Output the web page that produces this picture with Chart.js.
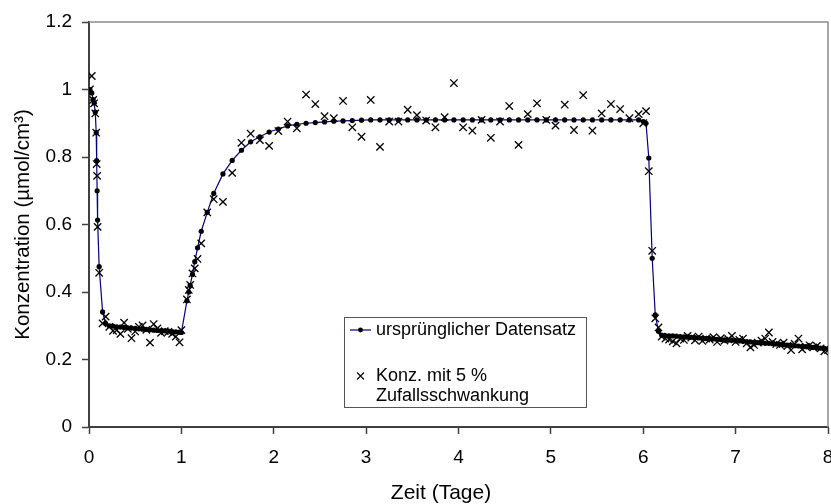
<!DOCTYPE html>
<html>
<head>
<meta charset="utf-8">
<script src="https://cdn.jsdelivr.net/npm/chart.js@4/dist/chart.umd.min.js"></script>
<style>
  html, body { margin: 0; padding: 0; background: #fff; }
  #wrap { width: 831px; height: 504px; }
</style>
</head>
<body>
<div id="wrap"><canvas id="chart" width="831" height="504"></canvas></div>
<script>
// Zeit in Tagen (gemeinsam fuer beide Reihen)
const zeit = [
  // Abfall am Anfang
  0.01, 0.03, 0.045, 0.055, 0.068, 0.078, 0.083, 0.088, 0.093, 0.11, 0.147, 0.18,
  // niedriges Niveau
  0.22, 0.26, 0.30, 0.34, 0.38, 0.42, 0.46, 0.50, 0.54, 0.58,
  0.62, 0.66, 0.70, 0.74, 0.78, 0.82, 0.86, 0.90, 0.94, 0.98,
  // Anstieg
  1.0, 1.06, 1.08, 1.095, 1.12, 1.145, 1.175, 1.215, 1.28, 1.35,
  1.45, 1.55, 1.65, 1.75, 1.85, 1.95, 2.05,
  // Plateau
  2.15, 2.25, 2.35, 2.45, 2.55, 2.65, 2.75, 2.85, 2.95,
  3.05, 3.15, 3.25, 3.35, 3.45, 3.55, 3.65, 3.75, 3.85, 3.95,
  4.05, 4.15, 4.25, 4.35, 4.45, 4.55, 4.65, 4.75, 4.85, 4.95,
  5.05, 5.15, 5.25, 5.35, 5.45, 5.55, 5.65, 5.75, 5.85, 5.95,
  6.0, 6.03,
  // zweiter Abfall
  6.06, 6.097, 6.13, 6.165,
  // Ende
  6.20, 6.24, 6.28, 6.32, 6.36, 6.40, 6.44, 6.48, 6.52, 6.56,
  6.60, 6.64, 6.68, 6.72, 6.76, 6.80, 6.84, 6.88, 6.92, 6.96,
  7.00, 7.04, 7.08, 7.12, 7.16, 7.20, 7.24, 7.28, 7.32, 7.36,
  7.40, 7.44, 7.48, 7.52, 7.56, 7.60, 7.64, 7.68, 7.72, 7.76,
  7.80, 7.84, 7.88, 7.92, 7.96, 8.00
]

// ursprünglicher Datensatz
const original = [
  1.0, 0.99, 0.97, 0.96, 0.933, 0.872, 0.789, 0.70, 0.613, 0.475, 0.341, 0.307,
  0.300, 0.299, 0.297, 0.296, 0.295, 0.294, 0.293, 0.292, 0.291, 0.290,
  0.289, 0.288, 0.287, 0.286, 0.286, 0.285, 0.284, 0.283, 0.282, 0.281,
  0.28, 0.374, 0.40, 0.42, 0.452, 0.49, 0.531, 0.58, 0.636, 0.692,
  0.75, 0.79, 0.82, 0.845, 0.86, 0.874, 0.883,
  0.892, 0.897, 0.90, 0.902, 0.904, 0.906, 0.907, 0.908, 0.909,
  0.91, 0.91, 0.91, 0.91, 0.91, 0.91, 0.91, 0.91, 0.91, 0.91,
  0.91, 0.91, 0.91, 0.91, 0.91, 0.91, 0.91, 0.91, 0.91, 0.91,
  0.91, 0.91, 0.91, 0.91, 0.91, 0.91, 0.91, 0.91, 0.91, 0.91,
  0.905, 0.90,
  0.797, 0.50, 0.332, 0.284,
  0.272, 0.271, 0.270, 0.270, 0.269, 0.268, 0.267, 0.266, 0.266, 0.265,
  0.264, 0.263, 0.262, 0.262, 0.261, 0.260, 0.259, 0.258, 0.257, 0.257,
  0.256, 0.255, 0.254, 0.253, 0.252, 0.251, 0.250, 0.249, 0.248, 0.248,
  0.247, 0.246, 0.245, 0.244, 0.243, 0.242, 0.241, 0.240, 0.239, 0.238,
  0.237, 0.236, 0.235, 0.234, 0.233, 0.232
]

// Konz. mit 5 % Zufallsschwankung
const schwankung = [
  1.0, 1.04, 0.969, 0.959, 0.929, 0.872, 0.779, 0.744, 0.593, 0.457, 0.307, 0.327,
  0.297, 0.285, 0.287, 0.276, 0.309, 0.291, 0.263, 0.283, 0.297, 0.301,
  0.288, 0.25, 0.305, 0.292, 0.279, 0.284, 0.282, 0.276, 0.268, 0.251,
  0.287, 0.378, 0.406, 0.421, 0.455, 0.47, 0.498, 0.544, 0.636, 0.675,
  0.667, 0.753, 0.842, 0.869, 0.85, 0.833, 0.877,
  0.905, 0.885, 0.985, 0.957, 0.921, 0.915, 0.966, 0.888, 0.86,
  0.969, 0.83, 0.905, 0.905, 0.94, 0.924, 0.908, 0.888, 0.918, 1.019,
  0.888, 0.878, 0.91, 0.857, 0.905, 0.951, 0.836, 0.927, 0.959, 0.91,
  0.893, 0.955, 0.88, 0.983, 0.878, 0.929, 0.957, 0.942, 0.915, 0.927,
  0.90, 0.936,
  0.758, 0.522, 0.322, 0.295,
  0.268, 0.262, 0.259, 0.254, 0.248, 0.262, 0.258, 0.270, 0.265, 0.257,
  0.268, 0.255, 0.262, 0.259, 0.266, 0.252, 0.263, 0.256, 0.260, 0.270,
  0.252, 0.258, 0.262, 0.248, 0.236, 0.243, 0.250, 0.256, 0.262, 0.280,
  0.252, 0.246, 0.243, 0.250, 0.240, 0.228, 0.246, 0.262, 0.230, 0.238,
  0.242, 0.236, 0.240, 0.233, 0.224, 0.228
]

const xTickLabels = ["0", "1", "2", "3", "4", "5", "6", "7", "8"]
const yTickLabels = ["0", "0.2", "0.4", "0.6", "0.8", "1", "1.2"]

const seriesNames = ["ursprünglicher Datensatz", ["Konz. mit 5 %", "Zufallsschwankung"]]
const xTitle = "Zeit (Tage)"

const FONT = "'Liberation Sans', Arial, sans-serif"
const AXIS = "#404040"

function toPoints(ys) {
  var pts = []
  for (let i = 0; i < zeit.length; i++) {
    pts.push({ x: zeit[i], y: ys[i] })
  }
  return pts
}

// gray frame on top and right like the excel plot area
const framePlugin = {
  id: "frame",
  beforeDatasetsDraw(chart) {
    const { ctx, chartArea: a } = chart
    ctx.save()
    ctx.strokeStyle = "#8c8c8c"
    ctx.lineWidth = 1.5
    ctx.beginPath()
    ctx.moveTo(a.left, a.top)
    ctx.lineTo(a.right, a.top)
    ctx.lineTo(a.right, a.bottom)
    ctx.stroke()
    ctx.restore()
  },
  afterDraw(chart) {
    // x title sits a bit left of the centre in the original
    const { ctx, chartArea: a } = chart
    ctx.save()
    ctx.fillStyle = "#000"
    ctx.font = "21px " + FONT
    ctx.textAlign = "center"
    ctx.textBaseline = "middle"
    ctx.fillText(xTitle, a.left + 352, 493)
    ctx.restore()
  }
}

// boxed legend inside the plot, with a two line entry
const legendBox = {
  id: "legendBox",
  afterDraw(chart) {
    const { ctx, chartArea: a } = chart
    const x = a.left + 255
    const y = a.top + 295
    const w = 242
    const h = 90
    ctx.save()
    ctx.fillStyle = "#fff"
    ctx.fillRect(x, y, w, h)
    ctx.strokeStyle = "#555"
    ctx.lineWidth = 1
    ctx.strokeRect(x + 0.5, y + 0.5, w, h)

    // line + dot
    const y1 = y + 13
    ctx.strokeStyle = "#000080"
    ctx.lineWidth = 1.2
    ctx.beginPath()
    ctx.moveTo(x + 6, y1)
    ctx.lineTo(x + 27, y1)
    ctx.stroke()
    ctx.fillStyle = "#000"
    ctx.beginPath()
    ctx.arc(x + 16.5, y1, 2.4, 0, Math.PI * 2)
    ctx.fill()

    // cross
    const y2 = y + 59
    ctx.strokeStyle = "#000"
    ctx.lineWidth = 1.1
    ctx.beginPath()
    ctx.moveTo(x + 13, y2 - 3.5)
    ctx.lineTo(x + 20, y2 + 3.5)
    ctx.moveTo(x + 20, y2 - 3.5)
    ctx.lineTo(x + 13, y2 + 3.5)
    ctx.stroke()

    ctx.fillStyle = "#000"
    ctx.font = "18px " + FONT
    ctx.textBaseline = "middle"
    ctx.textAlign = "left"
    ctx.fillText(seriesNames[0], x + 32, y1)
    ctx.fillText(seriesNames[1][0], x + 32, y2)
    ctx.fillText(seriesNames[1][1], x + 32, y2 + 20)
    ctx.restore()
  }
}

const ctx = document.getElementById("chart")

const config = {
  type: "scatter",
  data: {
    datasets: [
      {
        label: seriesNames[0],
        data: toPoints(original),
        showLine: true,
        borderColor: "#000080",
        borderWidth: 1.2,
        tension: 0,
        pointRadius: 2.6,
        pointBackgroundColor: "#000",
        pointBorderColor: "#000",
        pointBorderWidth: 0,
        pointHoverRadius: 0,
        order: 2
      },
      {
        label: seriesNames[1].join(" "),
        data: toPoints(schwankung),
        showLine: false,
        pointStyle: "crossRot",
        pointRadius: 5.2,
        pointBorderColor: "#000",
        pointBackgroundColor: "#000",
        pointBorderWidth: 1.3,
        pointHoverRadius: 0,
        order: 1
      }
    ]
  },
  options: {
    responsive: false,
    animation: false,
    events: [],
    plugins: {
      legend: { display: false },
      tooltip: { enabled: false },
      title: { display: false }
    },
    layout: {
      autoPadding: false,
      padding: { top: 22, right: 3, bottom: 0, left: 0 }
    },
    scales: {
      x: {
        type: "linear",
        min: 0,
        max: 8,
        afterFit: function(scale) {
          scale.height = 77
          scale.paddingLeft = 0
          scale.paddingRight = 0
        },
        ticks: {
          stepSize: 1,
          padding: 12,
          color: "#000",
          font: { family: FONT, size: 19 },
          maxRotation: 0,
          callback: function(value) { return xTickLabels[Math.round(value)] }
        },
        grid: {
          drawOnChartArea: false,
          drawTicks: true,
          tickLength: 7,
          tickWidth: 1.5,
          tickColor: AXIS
        },
        border: { display: true, color: AXIS, width: 2 },
        title: { display: false }
      },
      y: {
        type: "linear",
        min: 0,
        max: 1.2,
        afterFit: function(scale) {
          scale.width = 89
          scale.paddingTop = 0
          scale.paddingBottom = 0
        },
        ticks: {
          stepSize: 0.2,
          padding: 10,
          color: "#000",
          font: { family: FONT, size: 19 },
          callback: function(value, index) { return yTickLabels[index] }
        },
        grid: {
          drawOnChartArea: false,
          drawTicks: true,
          tickLength: 7,
          tickWidth: 1.5,
          tickColor: AXIS
        },
        border: { display: true, color: AXIS, width: 2 },
        title: {
          display: true,
          text: "Konzentration (µmol/cm³)",
          color: "#000",
          font: { family: FONT, size: 20.5 },
          padding: { top: 11, bottom: 0 }
        }
      }
    }
  },
  plugins: [framePlugin, legendBox]
}

const chart = new Chart(ctx, config)
</script>
</body>
</html>
